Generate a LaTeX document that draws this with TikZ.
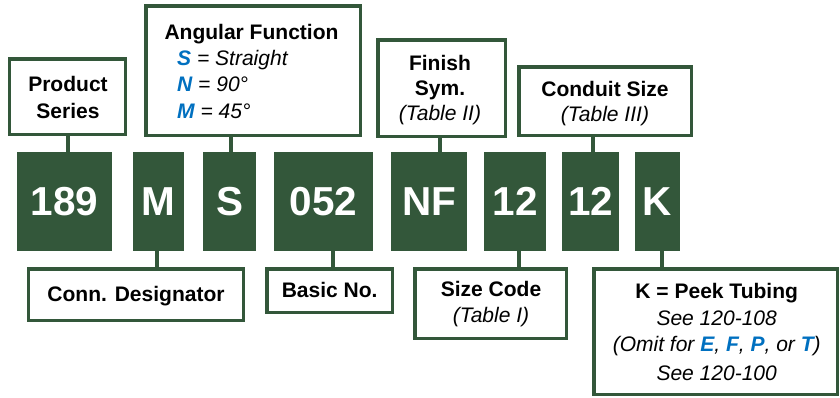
\documentclass[tikz,border=0pt]{standalone}
\usepackage{fontspec}
\setmainfont{Liberation Sans}
\definecolor{pgreen}{RGB}{51,87,58}
\definecolor{pblue}{RGB}{0,112,192}
\newcommand{\bl}[1]{{\color{pblue}\bfseries\itshape #1}}
\begin{document}
\begin{tikzpicture}[x=1bp,y=-1bp,
  codebox/.style={fill=pgreen,text=white,font=\fontsize{40.6}{40}\selectfont\bfseries,inner sep=0,outer sep=0,minimum height=99bp},
  lbox/.style={draw=pgreen,line width=3.5bp,fill=white,inner sep=0,outer sep=0},
  conn/.style={draw=pgreen,line width=4bp},
  lbl/.style={font=\fontsize{21.1}{25}\selectfont,anchor=base,inner sep=0},
  lblb/.style={lbl,font=\fontsize{21.1}{25}\selectfont\bfseries},
  lbli/.style={lbl,font=\fontsize{21.1}{25}\selectfont\itshape},
  lblw/.style={lbl,anchor=base west,font=\fontsize{21.1}{25}\selectfont\itshape}]
\useasboundingbox (0,0) rectangle (840,397);
% code boxes
\node[codebox,minimum width=95bp] (c189) at (64.5,201.5) {189};
\node[codebox,minimum width=51bp] (cM) at (158.5,201.5) {M};
\node[codebox,minimum width=53bp] (cS) at (229.5,201.5) {S};
\node[codebox,minimum width=99bp] (c052) at (323.5,201.5) {052};
\node[codebox,minimum width=76bp] (cNF) at (429,201.5) {NF};
\node[codebox,minimum width=62bp] (c12a) at (515,201.5) {12};
\node[codebox,minimum width=57bp] (c12b) at (590.5,201.5) {12};
\node[codebox,minimum width=45bp] (cK) at (657.5,201.5) {K};
% label boxes
\node[lbox,minimum width=115.5bp,minimum height=75.5bp] (ps) at (67.5,96.5) {};
\node[lbox,minimum width=214.5bp,minimum height=129.5bp] (af) at (253,70.5) {};
\node[lbox,minimum width=127.5bp,minimum height=96.5bp] (fs) at (441.5,88) {};
\node[lbox,minimum width=172.5bp,minimum height=68.5bp] (cs) at (605,101) {};
\node[lbox,minimum width=214.5bp,minimum height=51.5bp] (cd) at (136,294.5) {};
\node[lbox,minimum width=125.5bp,minimum height=43.5bp] (bn) at (329.5,290.5) {};
\node[lbox,minimum width=151.5bp,minimum height=69.5bp] (sc) at (490.5,303.5) {};
\node[lbox,minimum width=243.5bp,minimum height=125.5bp] (kb) at (715.5,331.5) {};
% connectors
\draw[conn] ([xshift=0.5bp]ps.south) -- ([xshift=0.5bp]ps.south |- c189.north);
\draw[conn] ([xshift=1.5bp]cS.north) -- ([xshift=1.5bp]cS.north |- af.south);
\draw[conn] ([xshift=-1.5bp]fs.south) -- ([xshift=-1.5bp]fs.south |- cNF.north);
\draw[conn] ([xshift=2.5bp]c12b.north) -- ([xshift=2.5bp]c12b.north |- cs.south);
\draw[conn] ([xshift=-1.5bp]cM.south) -- ([xshift=-1.5bp]cM.south |- cd.north);
\draw[conn] ([xshift=3.5bp]bn.north) -- ([xshift=3.5bp]bn.north |- c052.south);
\draw[conn] ([xshift=4bp]c12a.south) -- ([xshift=4bp]c12a.south |- sc.north);
\draw[conn] ([xshift=4.5bp]cK.south) -- ([xshift=4.5bp]cK.south |- kb.north);
% texts
\node[lblb] (t1) at (68,91.7) {Product};
\node[lblb] (t2) at (68,118.3) {Series};
\node[lblb] (t3) at (251.5,39.3) {Angular Function};
\node[lblw] (t4) at (177,65) {\bl{S} = Straight};
\node[lblw] (t5) at (177,91.5) {\bl{N} = 90°};
\node[lblw] (t6) at (177,118) {\bl{M} = 45°};
\node[lblb] (t7) at (440,70.7) {Finish};
\node[lblb] (t8) at (440,95.7) {Sym.};
\node[lbli] (t9) at (440,120.7) {(Table II)};
\node[lblb] (t10) at (605,96.7) {Conduit Size};
\node[lbli] (t11) at (605,121.5) {(Table III)};
\node[lblb] (t12) at (136,301.7) {Conn. Designator};
\node[lblb] (t13) at (329.7,297.7) {Basic No.};
\node[lblb] (t14) at (491,296.7) {Size Code};
\node[lbli] (t15) at (491,322) {(Table I)};
\node[lblb] (t16) at (716.7,298.3) {K = Peek Tubing};
\node[lbli] (t17) at (716.7,325) {See 120-108};
\node[lbli] (t18) at (716.7,351.7) {(Omit for \bl{E}, \bl{F}, \bl{P}, or \bl{T})};
\node[lbli] (t19) at (716.7,380) {See 120-100};
\end{tikzpicture}
\end{document}
